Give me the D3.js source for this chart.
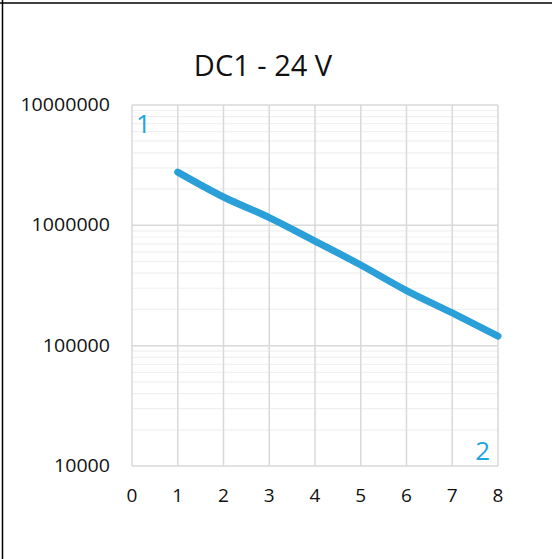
<!DOCTYPE html>
<meta charset="utf-8">
<script src="https://d3js.org/d3.v7.min.js"></script>
<style>
  body { margin: 0; background: #fff; }
  .tick-label { font-family: "Open Sans", "Noto Sans", sans-serif; font-size: 18px; fill: #111; }
  .x-label { font-size: 19px; }
  .title { font-family: "Open Sans", "Noto Sans", sans-serif; font-size: 29px; fill: #111; }
  .marker { font-family: "Open Sans", "Noto Sans", sans-serif; font-size: 26px; fill: #1ea5df; }
</style>
<div id="chart"></div>
<script>
// data
var xValues = [1, 2, 3, 4, 5, 6, 7, 8];
var yValues = [2770000, 1720000, 1160000, 740000, 468000, 287000, 187000, 120000];
var xTicks = [0, 1, 2, 3, 4, 5, 6, 7, 8];
var yTicks = [10000, 100000, 1000000, 10000000];

var width = 552, height = 559;
var margin = {top: 105, right: 54, bottom: 93, left: 132};

var svg = d3.select('#chart').append('svg')
    .attr('width', width)
    .attr('height', height);

// outer frame (top + left only)
svg.append('line').attr('x1', 0).attr('x2', width).attr('y1', 3).attr('y2', 3)
    .attr('stroke', '#000').attr('stroke-width', 1.5);
svg.append('line').attr('x1', 2.5).attr('x2', 2.5).attr('y1', 0).attr('y2', height)
    .attr('stroke', '#000').attr('stroke-width', 1.5);

var x = d3.scaleLinear().domain([0, 8]).range([margin.left, width - margin.right]);
var y = d3.scaleLog().domain([10000, 10000000]).range([height - margin.bottom, margin.top]);

// minor horizontal grid
var minor = [];
[10000, 100000, 1000000].forEach(function(d) {
  for (var k = 2; k <= 9; k++) minor.push(d * k);
});
svg.append('g').selectAll('line').data(minor).enter().append('line')
    .attr('x1', x(0)).attr('x2', x(8))
    .attr('y1', function(d) { return y(d); }).attr('y2', function(d) { return y(d); })
    .attr('stroke', '#f0f0f0').attr('stroke-width', 1.2);

// major grid
svg.append('g').selectAll('line').data(yTicks).enter().append('line')
    .attr('x1', x(0)).attr('x2', x(8))
    .attr('y1', function(d) { return y(d); }).attr('y2', function(d) { return y(d); })
    .attr('stroke', '#d9d9d9').attr('stroke-width', 1.5);
svg.append('g').selectAll('line').data(xTicks).enter().append('line')
    .attr('x1', function(d) { return x(d); }).attr('x2', function(d) { return x(d); })
    .attr('y1', y(10000)).attr('y2', y(10000000))
    .attr('stroke', '#d9d9d9').attr('stroke-width', 1.5);

// y labels
svg.append('g').selectAll('text').data(yTicks).enter().append('text')
    .attr('class', 'tick-label')
    .attr('text-anchor', 'end')
    .attr('x', 110)
    .attr('y', function(d) { return y(d) + 6; })
    .attr('textLength', function(d) { return String(d).length * 11.2; })
    .attr('lengthAdjust', 'spacingAndGlyphs')
    .text(function(d) { return d; });

// x labels
svg.append('g').selectAll('text').data(xTicks).enter().append('text')
    .attr('class', 'tick-label x-label')
    .attr('text-anchor', 'middle')
    .attr('x', function(d) { return x(d); })
    .attr('y', 502)
    .text(function(d) { return d; });

// title
svg.append('text').attr('class', 'title')
    .attr('x', 263).attr('y', 76)
    .attr('text-anchor', 'middle')
    .text('DC1 - 24 V');

// series
var line = d3.line()
    .x(function(d, i) { return x(xValues[i]); })
    .y(function(d) { return y(d); })
    .curve(d3.curveMonotoneX);

svg.append('path')
    .datum(yValues)
    .attr('d', line)
    .attr('fill', 'none')
    .attr('stroke', '#2a9fd8')
    .attr('stroke-width', 7)
    .attr('stroke-linecap', 'round');

// corner markers
svg.append('text').attr('class', 'marker').attr('x', 136).attr('y', 133).text('1');
svg.append('text').attr('class', 'marker').attr('x', 490).attr('y', 460)
    .attr('text-anchor', 'end').text('2');
</script>
